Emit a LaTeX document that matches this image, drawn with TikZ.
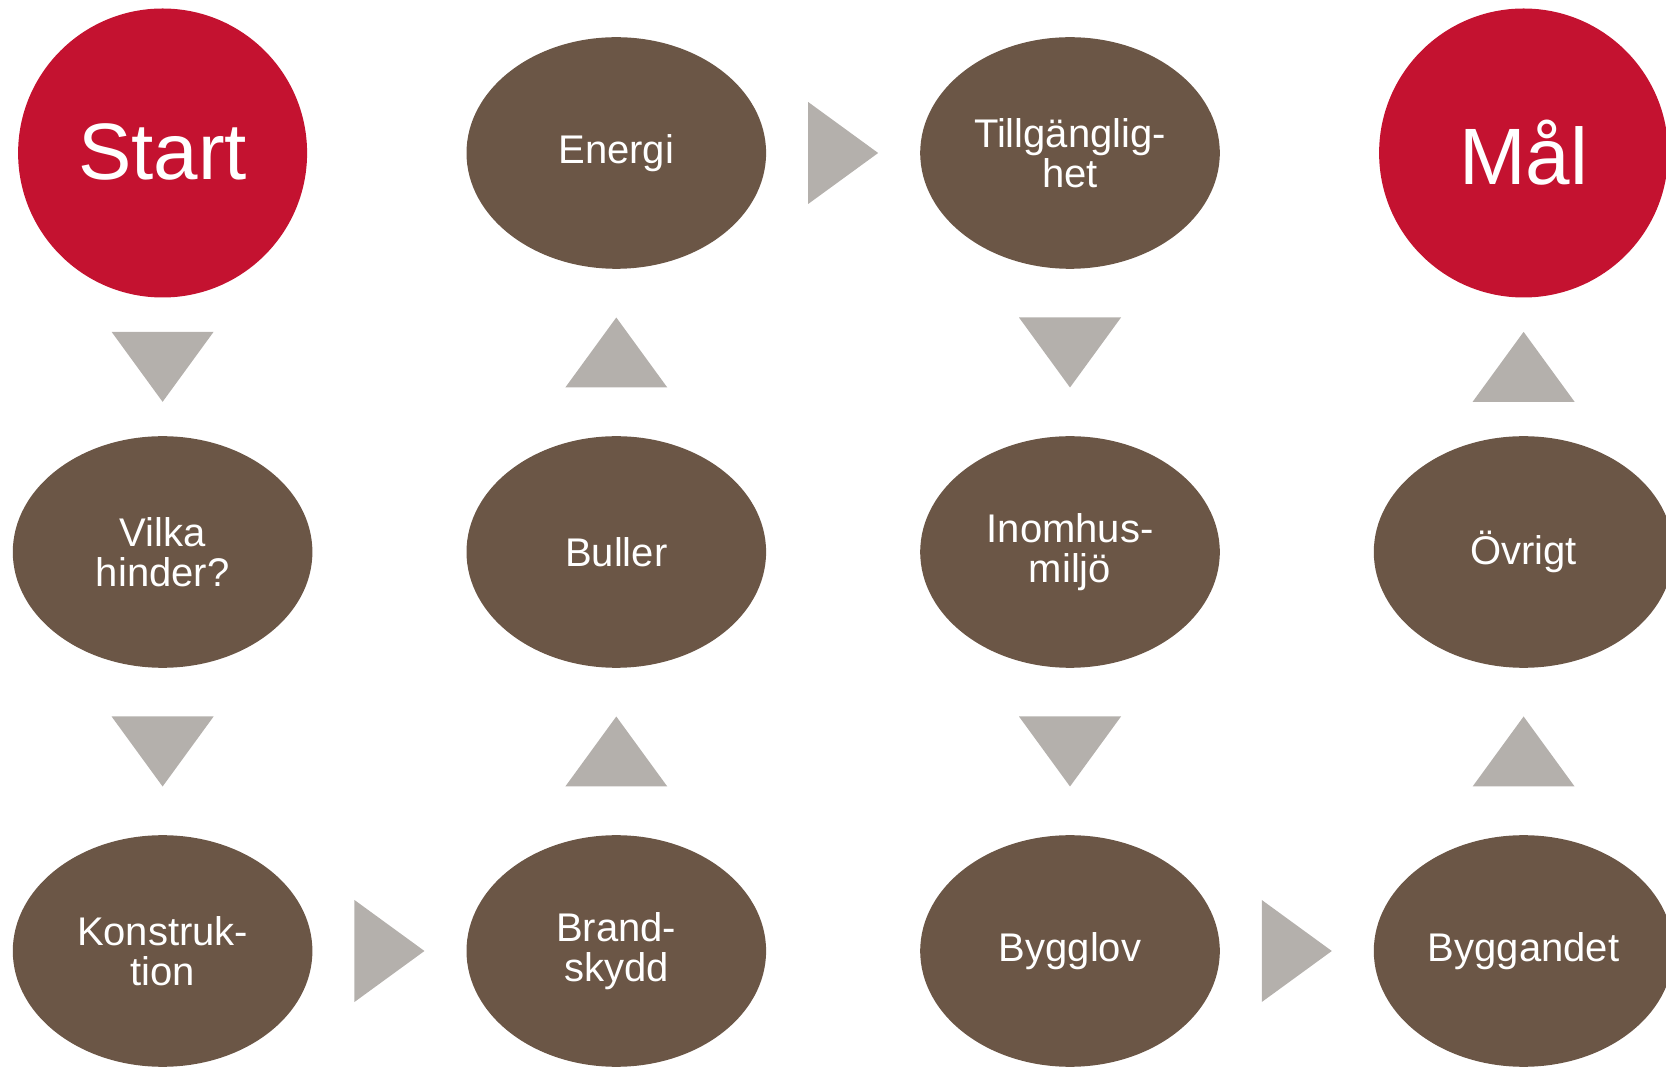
\documentclass[tikz,border=0pt]{standalone}
\usepackage{fontspec}
\setmainfont{Liberation Sans}
\usetikzlibrary{shapes.geometric,calc}
\definecolor{goalred}{RGB}{196,18,48}
\definecolor{topicbrown}{RGB}{107,86,70}
\definecolor{arrowgray}{RGB}{180,176,172}
\tikzset{
  topic/.style={ellipse,fill=topicbrown,text=white,inner sep=0pt,
    minimum width=149.8pt,minimum height=115.8pt,align=center,
    font=\fontsize{20}{20.2}\selectfont},
  goal/.style={circle,fill=goalred,text=white,inner sep=0pt,
    minimum size=144.5pt,font=\fontsize{40}{40}\selectfont},
  tri down/.pic={\fill[arrowgray] (-51,-35) -- (51,-35) -- (0,35) -- cycle;},
  tri up/.pic={\fill[arrowgray] (-51,35) -- (51,35) -- (0,-35) -- cycle;},
  tri right/.pic={\fill[arrowgray] (-35,-51) -- (-35,51) -- (35,0) -- cycle;},
}
\begin{document}
\begin{tikzpicture}[x=0.5pt,y=-0.5pt]
  \useasboundingbox (0,0) rectangle (1666,1068);
  \clip (0,0) rectangle (1666,1068);
  % Row 1
  \node[goal]  (start)   at (162.6,153)  {\raisebox{1.5pt}{Start}};
  \node[topic] (energi)  at (616.3,153)  {Energi};
  \node[topic] (tillg)   at (1070,153)   {Tillgänglig-\\het};
  \node[goal]  (mal)     at (1523.6,153) {Mål};
  % Row 2
  \node[topic] (vilka)   at (162.6,552)  {Vilka\\hinder?};
  \node[topic] (buller)  at (616.3,552)  {Buller};
  \node[topic] (inomhus) at (1070,552)   {Inomhus-\\miljö};
  \node[topic] (ovrigt)  at (1523.6,552) {Övrigt};
  % Row 3
  \node[topic] (konstr)  at (162.6,951)  {Konstruk-\\tion};
  \node[topic] (brand)   at (616.3,951)  {Brand-\\skydd};
  \node[topic] (bygglov) at (1070,951)   {Bygglov};
  \node[topic] (byggan)  at (1523.6,951) {Byggandet};
  % Arrows: start -> vilka -> konstr -> brand -> buller -> energi
  \pic at ($(start.south)!0.5!(vilka.north)$)    {tri down};
  \pic at ($(vilka.south)!0.5!(konstr.north)$)   {tri down};
  \pic at ($(konstr.east)!0.5!(brand.west)$)     {tri right};
  \pic at ($(brand.north)!0.5!(buller.south)$)   {tri up};
  \pic at ($(buller.north)!0.5!(energi.south)$)  {tri up};
  % Arrows: energi -> tillg -> inomhus -> bygglov -> byggan -> ovrigt -> mal
  \pic at ($(energi.east)!0.5!(tillg.west)$)     {tri right};
  \pic at ($(tillg.south)!0.5!(inomhus.north)$)  {tri down};
  \pic at ($(inomhus.south)!0.5!(bygglov.north)$) {tri down};
  \pic at ($(bygglov.east)!0.5!(byggan.west)$)   {tri right};
  \pic at ($(byggan.north)!0.5!(ovrigt.south)$)  {tri up};
  \pic at ($(ovrigt.north)!0.5!(mal.south)$)     {tri up};
\end{tikzpicture}
\end{document}
